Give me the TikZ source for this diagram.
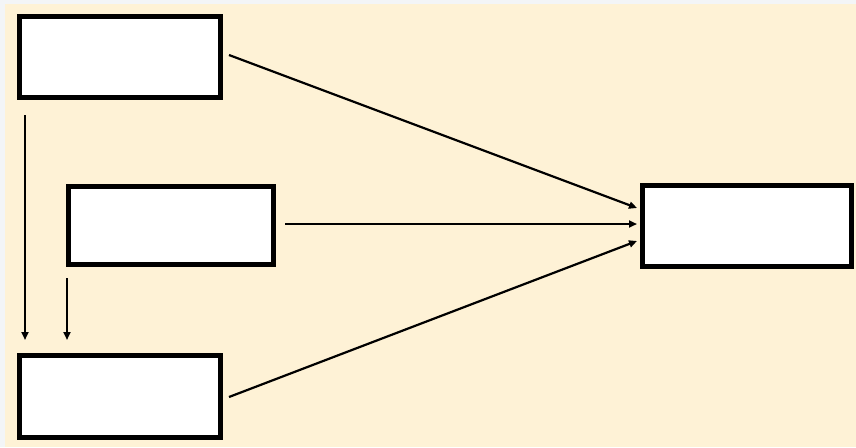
\documentclass[tikz,border=0pt]{standalone}
\usetikzlibrary{arrows.meta}
\definecolor{outerbg}{HTML}{F3F5F7}
\definecolor{cream}{HTML}{FEF2D6}
\tikzset{
  box/.style={draw=black, fill=white, line width=5pt, inner sep=0pt},
  conn/.style={line width=2.2pt, -{Triangle[length=8pt,width=7pt]}}
}
\begin{document}
\begin{tikzpicture}[x=1pt,y=-1pt]
\fill[outerbg] (0,0) rectangle (856,447);
\fill[cream] (5,4) rectangle (856,447);
\useasboundingbox (0,0) rectangle (856,447);
\node[box, minimum width=201pt, minimum height=81pt] (A) at (120,57) {};
\node[box, minimum width=205pt, minimum height=78pt] (B) at (171,225.5) {};
\node[box, minimum width=201pt, minimum height=82pt] (C) at (120,396.5) {};
\node[box, minimum width=209pt, minimum height=81pt] (D) at (747,226) {};
\draw[conn] ([xshift=8pt,yshift=-15pt]A.south west) -- ([xshift=8pt,yshift=13pt]C.north west);
\draw[conn] ([xshift=1pt,yshift=-11pt]B.south west) -- ([xshift=50pt,yshift=13pt]C.north west);
\draw[conn] ([xshift=6pt,yshift=2pt]A.east) -- ([xshift=-3pt,yshift=18pt]D.west);
\draw[conn] ([xshift=9pt,yshift=1.5pt]B.east) -- ([xshift=-3pt,yshift=2pt]D.west);
\draw[conn] ([xshift=6pt,yshift=-0.5pt]C.east) -- ([xshift=-3pt,yshift=-15pt]D.west);
\end{tikzpicture}
\end{document}
